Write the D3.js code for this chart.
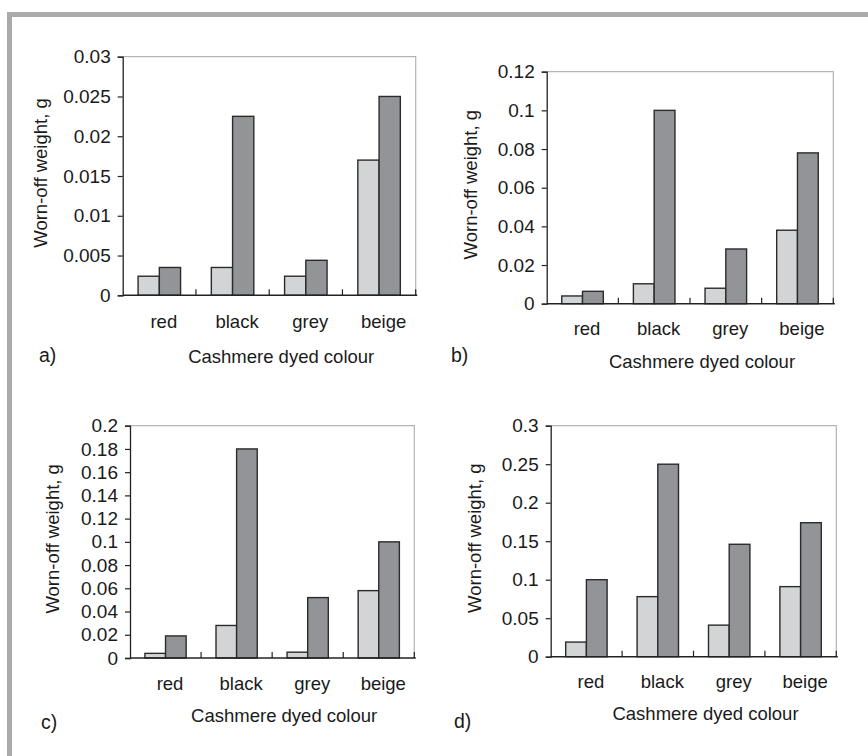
<!DOCTYPE html>
<html lang="en">
<head>
<meta charset="UTF-8">
<title>Worn-off weight by cashmere dyed colour</title>
<style>
html,body{margin:0; width:868px; height:756px; overflow:hidden; background:#fff;}
svg{display:block; font-family:"Liberation Sans", Arial, Helvetica, sans-serif;}
.tick text{fill:#1a1a1a;}
</style>
</head>
<body>
<svg width="868" height="756"></svg>
<script src="https://d3js.org/d3.v7.min.js"></script>
<script>
// data
const categories = ["red", "black", "grey", "beige"];
const panelNames = ["a)", "b)", "c)", "d)"];

const lightA = [0.0024, 0.0035, 0.0024, 0.017];
const darkA  = [0.0035, 0.0225, 0.0044, 0.025];
const lightB = [0.004, 0.0103, 0.008, 0.038];
const darkB  = [0.0064, 0.1, 0.0283, 0.078];
const lightC = [0.004, 0.028, 0.005, 0.058];
const darkC  = [0.019, 0.18, 0.052, 0.1];
const lightD = [0.019, 0.078, 0.041, 0.091];
const darkD  = [0.1, 0.25, 0.146, 0.174];

const ticksA = [0, 0.005, 0.01, 0.015, 0.02, 0.025, 0.03];
const ticksB = [0, 0.02, 0.04, 0.06, 0.08, 0.1, 0.12];
const ticksC = [0, 0.02, 0.04, 0.06, 0.08, 0.1, 0.12, 0.14, 0.16, 0.18, 0.2];
const ticksD = [0, 0.05, 0.1, 0.15, 0.2, 0.25, 0.3];

const xTitle = "Cashmere dyed colour";
const yTitle = "Worn-off weight, g";

// plot boxes and label spots, per panel
const layout = [
  {x0:122.7, x1:415.7, y0:56.7,  y1:295.3, catY:328,   titleY:362.5, nameX:39,  nameY:362, yTitleX:47,  light:lightA, dark:darkA, ticks:ticksA},
  {x0:546.7, x1:833.3, y0:71.7,  y1:303.7, catY:335,   titleY:367.5, nameX:451, nameY:362, yTitleX:477, light:lightB, dark:darkB, ticks:ticksB},
  {x0:130,   x1:414.3, y0:425.7, y1:658,   catY:689.5, titleY:722,   nameX:41,  nameY:729, yTitleX:59,  light:lightC, dark:darkC, ticks:ticksC},
  {x0:550.7, x1:836.3, y0:425.7, y1:656.7, catY:688,   titleY:720,   nameX:454, nameY:728, yTitleX:481, light:lightD, dark:darkD, ticks:ticksD}
];

const FONT = 18.5;
const LIGHT = "#d3d4d6", DARK = "#939497", EDGE = "#2b2b2b";

const svg = d3.select("svg");

// grey frame, top and left only
svg.append("rect").attr("x",7).attr("y",12).attr("width",861).attr("height",5).attr("fill","#aaaaaa");
svg.append("rect").attr("x",7).attr("y",12).attr("width",5).attr("height",744).attr("fill","#aaaaaa");

layout.forEach((p,i)=>{
  const g = svg.append("g");
  const x = d3.scaleBand().domain(categories).range([p.x0,p.x1]).padding(0);
  const series = d3.scaleBand().domain(["light","dark"]).range([x.bandwidth()*0.21, x.bandwidth()*0.79]).padding(0);
  const y = d3.scaleLinear().domain([0, d3.max(p.ticks)]).range([p.y1,p.y0]);

  // light grey frame on top and right
  g.append("path")
    .attr("d",`M${p.x0},${p.y0}H${p.x1}V${p.y1}`)
    .attr("fill","none").attr("stroke","#b4b4b4").attr("stroke-width",1.2);

  const rows = categories.map((c,k)=>({cat:c, light:p.light[k], dark:p.dark[k]}));
  const grp = g.selectAll("g.cat").data(rows).join("g")
    .attr("class","cat")
    .attr("transform",d=>`translate(${x(d.cat)},0)`);
  grp.selectAll("rect").data(d=>[["light",d.light],["dark",d.dark]]).join("rect")
    .attr("x",d=>series(d[0]))
    .attr("width",series.bandwidth())
    .attr("y",d=>y(d[1]))
    .attr("height",d=>y(0)-y(d[1]))
    .attr("fill",d=>d[0]==="light"?LIGHT:DARK)
    .attr("stroke",EDGE).attr("stroke-width",1.4);

  // y axis
  const yAxis = d3.axisLeft(y).tickValues(p.ticks).tickSize(5).tickPadding(7)
    .tickFormat(d=>String(+d.toFixed(4)));
  g.append("g").attr("transform",`translate(${p.x0},0)`).call(yAxis)
    .call(a=>a.select(".domain").attr("stroke","#222").attr("stroke-width",1.3))
    .call(a=>a.selectAll(".tick line").attr("stroke","#222").attr("stroke-width",1.2))
    .call(a=>a.selectAll(".tick text").attr("font-size",FONT+0.5).attr("font-family",null));

  // x axis: baseline with inward ticks at category boundaries
  g.append("line").attr("x1",p.x0).attr("x2",p.x1+1.5).attr("y1",p.y1).attr("y2",p.y1)
    .attr("stroke","#222").attr("stroke-width",1.4);
  g.selectAll("line.bound").data(categories.slice(1).concat([null])).join("line")
    .attr("class","bound")
    .attr("x1",d=>d===null?p.x1:x(d)).attr("x2",d=>d===null?p.x1:x(d))
    .attr("y1",p.y1).attr("y2",p.y1-6)
    .attr("stroke","#222").attr("stroke-width",1.2);

  g.selectAll("text.catlab").data(categories).join("text")
    .attr("class","catlab")
    .attr("x",d=>x(d)+x.bandwidth()/2+4.5)
    .attr("y",p.catY)
    .attr("text-anchor","middle")
    .attr("font-size",FONT).attr("fill","#1a1a1a")
    .text(d=>d);

  g.append("text")
    .attr("x",(p.x0+p.x1)/2+12).attr("y",p.titleY)
    .attr("text-anchor","middle").attr("font-size",FONT).attr("fill","#1a1a1a")
    .text(xTitle);

  g.append("text")
    .attr("transform",`translate(${p.yTitleX},${(p.y0+p.y1)/2 - 3}) rotate(-90)`)
    .attr("text-anchor","middle").attr("font-size",FONT).attr("fill","#1a1a1a")
    .text(yTitle);

  g.append("text")
    .attr("x",p.nameX).attr("y",p.nameY)
    .attr("font-size",FONT+1).attr("fill","#1a1a1a")
    .text(panelNames[i]);
});
</script>
</body>
</html>
